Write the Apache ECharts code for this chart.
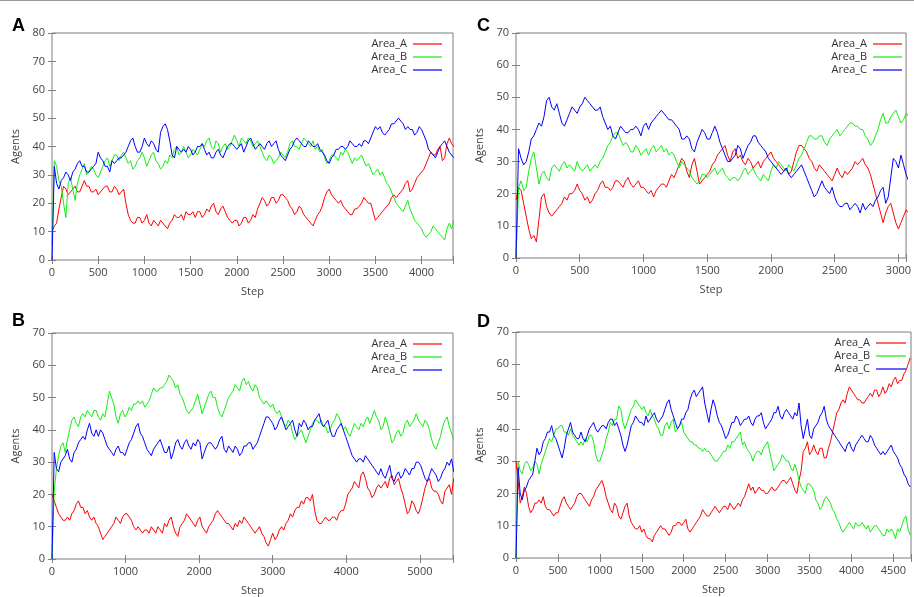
<!DOCTYPE html>
<html>
<head>
<meta charset="utf-8">
<title>Agents per area</title>
<script src="https://cdn.jsdelivr.net/npm/echarts@6/dist/echarts.min.js"></script>
<style>
  html, body { margin: 0; padding: 0; background: #fff; }
  #chart { width: 914px; height: 597px; }
</style>
</head>
<body>
<div id="chart"></div>
<script>
// readings taken off the four panels, one value every `step` simulation steps
const seriesNames = ['Area_A', 'Area_B', 'Area_C'];

// panel A
const stepA = 25;
const a_areaA = [10,12,13,18,22,26,25,23,24,25,26,24,24,26,28,26,26,24,24,25,
  23,24,25,26,26,24,24,26,25,23,24,25,20,16,14,13,13,15,15,13,
  14,16,13,12,14,13,12,14,13,12,11,13,14,16,15,15,16,14,17,16,
  16,17,15,17,17,15,16,18,17,19,20,17,16,18,19,17,15,14,13,14,
  14,12,13,15,15,13,14,16,15,18,20,22,21,19,20,22,22,20,21,23,
  23,22,21,19,18,16,17,19,18,16,15,14,13,12,14,16,17,19,22,24,
  25,23,22,21,20,21,19,18,17,16,16,18,18,19,20,22,21,20,20,17,
  14,15,16,17,18,19,20,22,23,22,23,24,25,27,28,24,25,27,29,30,
  31,32,34,36,38,37,37,39,40,35,36,41,43,41,40];
const a_areaB = [5,35,33,28,26,20,15,27,29,25,21,27,30,32,34,30,31,33,32,30,
  29,31,33,35,36,33,35,37,37,35,37,38,36,34,35,32,33,35,36,38,
  36,33,35,37,38,35,34,32,33,35,34,37,36,39,40,37,38,40,38,36,
  37,39,38,37,39,41,40,42,43,40,39,42,41,38,40,41,39,40,42,44,
  42,40,43,42,41,43,42,40,41,42,40,38,36,35,37,36,34,35,36,38,
  37,36,38,41,42,40,40,39,41,43,42,41,40,42,39,40,38,39,36,34,
  35,37,37,36,35,38,37,39,38,36,34,36,35,36,37,35,33,34,32,30,
  31,32,30,31,29,27,26,24,22,20,19,18,17,19,21,18,16,14,13,12,
  11,9,8,9,10,12,11,10,9,8,7,11,13,11,14];
const a_areaC = [0,33,27,25,28,29,31,30,28,31,32,34,35,33,33,31,31,32,33,34,
  38,36,35,33,33,31,35,34,35,36,36,37,38,40,42,43,40,38,38,40,
  43,41,40,42,41,39,38,45,47,48,46,42,37,36,40,39,38,39,38,40,
  39,37,38,40,40,41,39,37,38,36,36,38,39,37,36,38,40,41,41,40,
  39,40,41,38,40,42,43,41,39,40,41,40,39,41,42,40,41,42,39,37,
  36,35,37,39,40,42,43,42,41,40,40,42,41,40,40,41,39,38,37,35,
  34,36,37,39,39,40,40,39,40,42,41,40,40,41,40,42,42,41,43,45,
  47,46,47,45,44,45,46,48,48,49,50,49,48,46,47,46,46,44,45,47,
  46,44,42,39,38,37,36,38,40,41,42,40,38,37,36];

// panel B
const stepB = 30;
const b_areaA = [20,18,16,14,13,12,12,13,12,14,15,17,18,16,16,14,15,13,12,13,
  11,10,8,6,7,8,9,10,11,13,12,11,13,14,14,13,12,10,9,10,
  9,8,9,9,8,10,9,8,10,9,8,11,10,12,13,10,8,7,10,11,
  12,14,13,12,11,10,12,13,10,9,8,10,11,12,14,15,14,13,12,11,
  11,10,9,11,10,12,11,13,12,11,10,9,8,9,10,8,7,5,4,6,
  8,6,7,9,10,9,11,12,14,13,15,16,16,18,17,19,19,18,20,15,
  12,11,11,12,13,12,12,13,13,12,14,15,15,17,20,21,22,24,23,22,
  26,27,25,22,21,19,20,22,23,22,23,24,22,25,26,23,24,25,22,20,
  17,14,15,18,17,15,14,16,19,22,24,25,22,21,21,20,18,17,21,22,
  23,20,25];
const b_areaB = [0,21,28,32,35,36,33,37,40,43,44,42,41,44,45,44,46,45,44,46,
  46,44,43,45,44,48,52,50,48,44,42,45,46,44,45,47,46,48,48,49,
  48,49,47,48,49,51,53,52,52,53,53,54,55,57,56,55,53,54,51,50,
  48,46,45,46,47,49,51,48,45,47,49,51,52,50,50,47,45,44,46,48,
  50,51,52,54,53,52,55,56,54,55,53,52,54,53,50,49,48,49,48,47,
  48,46,45,46,44,42,41,43,42,39,37,38,39,40,38,36,38,40,42,43,
  43,42,43,41,41,39,40,42,43,45,44,42,40,41,39,38,40,42,41,40,
  42,41,43,44,42,44,46,44,43,40,41,44,42,39,36,37,39,40,38,39,
  42,43,41,42,43,45,43,42,41,43,42,40,37,35,34,36,38,41,43,44,
  41,39,37];
const b_areaC = [0,33,28,27,30,31,32,34,31,30,33,34,36,37,38,37,40,42,39,38,
  40,38,40,39,37,35,34,33,32,34,35,33,33,32,34,36,37,39,41,42,
  39,38,36,34,33,32,34,35,36,37,35,33,33,35,31,33,36,37,35,34,
  36,37,35,34,36,35,37,36,31,33,35,36,36,35,34,35,37,38,34,33,
  35,34,33,35,34,32,33,35,35,36,36,34,35,36,38,40,42,44,44,43,
  42,40,41,43,44,42,40,41,42,43,40,38,42,41,43,42,40,41,41,43,
  44,45,42,41,42,43,40,38,38,40,41,42,40,38,36,34,32,31,30,31,
  31,30,32,31,30,29,28,27,26,28,26,25,27,29,25,24,26,27,25,26,
  28,27,26,28,28,30,30,29,27,25,24,26,28,27,26,24,25,27,28,30,
  29,31,27];

// panel C
const stepC = 20;
const c_areaA = [18,22,21,17,13,9,6,7,5,12,19,20,16,14,13,14,15,16,17,19,
  18,20,20,21,23,21,20,18,19,17,18,20,21,23,24,22,22,21,22,24,
  24,23,22,24,25,23,22,23,24,22,22,21,20,21,19,21,22,23,23,22,
  24,26,25,27,29,31,30,27,25,29,31,27,23,24,25,26,27,29,30,32,
  33,34,35,32,30,33,34,31,32,30,29,31,30,28,29,30,28,30,31,32,
  33,31,30,29,28,27,28,26,27,30,33,35,35,34,33,31,30,28,27,29,
  28,27,26,25,24,26,28,26,25,27,26,27,28,30,29,30,31,29,28,26,
  23,20,17,14,11,14,16,17,14,11,9,11,13,15,14];
const c_areaB = [0,22,24,21,22,27,31,33,28,23,26,27,25,24,28,29,28,27,29,30,
  28,29,28,27,30,28,27,28,29,27,28,29,28,30,31,33,35,36,38,39,
  39,37,35,36,35,33,33,35,34,32,33,34,32,34,35,33,34,35,33,34,
  32,33,32,30,28,30,29,28,27,25,24,23,24,26,26,25,26,27,28,26,
  27,28,26,25,24,25,25,24,25,27,28,26,27,28,26,25,24,26,25,24,
  27,29,28,30,29,28,27,29,28,27,29,31,32,34,36,38,38,37,37,38,
  38,36,35,37,38,39,40,38,39,40,41,42,42,41,41,40,40,38,37,35,
  36,38,40,43,45,42,42,44,45,46,44,42,43,45,44];
const c_areaC = [0,34,31,29,30,33,37,38,40,42,41,44,49,50,47,46,48,45,42,41,
  43,45,47,46,45,47,48,50,49,48,47,46,46,47,44,42,40,41,38,37,
  39,41,40,39,39,40,40,41,40,38,41,42,40,42,43,44,45,46,45,44,
  43,43,42,41,40,37,37,38,37,34,33,36,38,40,39,37,37,39,41,39,
  36,34,32,30,30,31,32,35,34,31,33,35,36,38,38,36,35,34,33,31,
  30,29,28,27,26,27,28,26,25,26,27,28,29,27,25,23,21,19,20,22,
  24,22,21,20,22,19,17,16,16,17,17,15,16,17,16,14,17,15,16,17,
  16,18,19,21,22,17,19,25,31,30,28,32,29,26,24];

// panel D
const stepD = 25;
const d_areaA = [30,24,17,19,22,20,16,14,15,17,17,18,17,19,16,15,15,14,13,14,
  14,16,18,19,17,16,15,16,17,19,20,20,19,18,17,16,18,19,21,22,
  23,24,22,19,17,15,14,17,16,13,12,14,16,17,13,11,10,9,9,10,
  8,9,7,6,6,5,7,8,9,10,9,9,8,7,8,10,10,11,11,10,
  11,12,9,8,9,10,11,12,13,15,14,13,13,14,15,16,15,14,15,16,
  16,15,17,16,15,16,17,16,18,19,21,23,21,22,20,21,22,21,21,20,
  20,21,22,21,21,22,23,24,24,23,24,25,23,21,20,24,27,33,34,36,
  32,33,35,33,32,34,34,31,31,34,36,39,42,45,46,48,49,48,51,53,
  52,51,50,49,49,48,48,49,50,51,50,52,52,50,51,53,51,52,54,53,
  55,56,54,55,55,57,58,60,62];
const d_areaB = [0,30,27,26,29,30,29,27,28,30,29,26,29,31,33,35,37,36,38,40,
  40,41,41,39,39,38,40,38,37,36,35,36,35,37,36,38,38,36,32,30,
  30,32,34,37,39,42,41,43,43,47,46,42,40,42,44,46,47,49,48,47,
  46,47,45,44,46,44,43,41,40,38,38,41,42,40,42,43,39,40,41,42,
  39,38,37,36,36,35,35,34,34,33,34,33,33,32,31,30,30,31,32,33,
  33,35,34,36,36,37,38,39,35,36,34,33,32,30,32,33,33,32,34,35,
  36,33,30,27,28,29,30,32,31,30,30,28,27,29,27,24,22,21,20,23,
  23,22,21,18,17,15,16,18,19,18,17,15,14,12,11,9,8,9,10,11,
  10,9,11,10,10,11,10,9,10,8,9,10,10,9,8,7,7,9,8,9,
  8,6,9,8,10,12,13,9,7];
const d_areaC = [0,28,20,18,21,22,24,25,26,30,34,32,33,36,37,39,39,41,38,37,
  35,33,31,34,38,40,42,39,38,37,37,39,37,36,38,40,41,42,40,39,
  40,41,41,40,42,43,43,41,42,40,38,35,33,35,38,41,42,44,43,42,
  42,41,44,42,43,44,45,43,42,43,44,46,48,49,46,44,42,40,41,43,
  43,45,46,49,51,52,50,51,52,53,48,45,42,46,49,47,44,42,41,39,
  37,38,40,42,42,44,43,41,42,43,43,44,42,41,43,44,44,45,42,40,
  41,42,43,45,45,47,44,43,45,46,45,44,43,45,44,48,41,37,40,43,
  38,37,40,41,42,44,45,47,43,41,40,39,38,37,36,35,34,33,35,36,
  34,33,35,36,37,38,37,36,36,38,37,35,34,33,32,33,32,33,34,35,
  33,32,31,29,28,26,25,23,22];

const colors = ['#ff0000', '#11ee11', '#0000ff'];
const font = 'Open Sans';
const frame = '#7f7f7f';
const textGray = '#444';

// key: x0/x1 = sample line ends, y = centre of the first key row
const panels = [
  { letter: 'A', box: { left: 52, top: 33, width: 401, height: 227 }, xMax: 4340, xInt: 500, yMax: 80,
    step: stepA, values: [a_areaA, a_areaB, a_areaC], key: { x0: 413, x1: 442, y: 44 }, lx: 12, ly: 17 },
  { letter: 'C', box: { left: 516, top: 33, width: 397, height: 225 }, xMax: 3060, xInt: 500, yMax: 70,
    step: stepC, values: [c_areaA, c_areaB, c_areaC], key: { x0: 873, x1: 902, y: 44 }, lx: 477, ly: 17 },
  { letter: 'B', box: { left: 52, top: 333, width: 401, height: 227 }, xMax: 5450, xInt: 1000, yMax: 70,
    step: stepB, values: [b_areaA, b_areaB, b_areaC], key: { x0: 413, x1: 442, y: 344 }, lx: 12, ly: 312 },
  { letter: 'D', box: { left: 516, top: 332, width: 398, height: 226 }, xMax: 4710, xInt: 500, yMax: 70,
    step: stepD, values: [d_areaA, d_areaB, d_areaC], key: { x0: 876, x1: 906, y: 343 }, lx: 477, ly: 313 }
];

function toPairs(step, values) {
  return values.map((v, i) => [i * step, v]);
}

let grid = [], xAxis = [], yAxis = [], series = [];
let graphic = [
  // thin rule across the top of the figure
  { type: 'rect', shape: { x: 0, y: 0, width: 914, height: 1 }, style: { fill: '#9a9a9a' } }
];

const tick = { inside: true, length: 4, lineStyle: { color: frame } };
const label = { color: textGray, fontFamily: font, fontSize: 11 };

panels.forEach((p, i) => {
  grid.push(Object.assign({ show: true, borderColor: frame, borderWidth: 1 }, p.box));

  // bottom and mirrored top x axis
  xAxis.push({
    gridIndex: i, type: 'value', min: 0, max: p.xMax, interval: p.xInt,
    name: 'Step', nameLocation: 'middle', nameGap: 26,
    nameTextStyle: { color: textGray, fontFamily: font, fontSize: 11 },
    axisLine: { show: false }, axisTick: tick, splitLine: { show: false },
    axisLabel: Object.assign({ margin: 7, formatter: v => (v % p.xInt === 0 ? v : '') }, label)
  });
  xAxis.push({
    gridIndex: i, type: 'value', position: 'top', min: 0, max: p.xMax, interval: p.xInt,
    axisLine: { show: false }, axisTick: tick, splitLine: { show: false }, axisLabel: { show: false }
  });

  // left and mirrored right y axis
  yAxis.push({
    gridIndex: i, type: 'value', min: 0, max: p.yMax, interval: 10,
    name: 'Agents', nameLocation: 'middle', nameGap: 31,
    nameTextStyle: { color: textGray, fontFamily: font, fontSize: 11 },
    axisLine: { show: false }, axisTick: tick, splitLine: { show: false },
    axisLabel: Object.assign({ margin: 7 }, label)
  });
  yAxis.push({
    gridIndex: i, type: 'value', position: 'right', min: 0, max: p.yMax, interval: 10,
    axisLine: { show: false }, axisTick: tick, splitLine: { show: false }, axisLabel: { show: false }
  });

  p.values.forEach((vals, k) => {
    series.push({
      name: seriesNames[k], type: 'line', xAxisIndex: 2 * i, yAxisIndex: 2 * i,
      data: toPairs(p.step, vals), showSymbol: false, symbol: 'none',
      lineStyle: { width: 1, color: colors[k] }, itemStyle: { color: colors[k] }
    });

    // gnuplot style key: name on the left, sample line on the right
    const ky = p.key.y + k * 13;
    graphic.push({
      type: 'line', silent: true,
      shape: { x1: p.key.x0, y1: ky, x2: p.key.x1, y2: ky },
      style: { stroke: colors[k], lineWidth: 1.2 }
    });
    graphic.push({
      type: 'text', silent: true, x: p.key.x0 - 6, y: ky,
      style: { text: seriesNames[k], fill: '#333', font: '11px "' + font + '"', textAlign: 'right', textVerticalAlign: 'middle' }
    });
  });

  graphic.push({
    type: 'text', left: p.lx, top: p.ly,
    style: { text: p.letter, fill: '#000', font: 'bold 18px "Liberation Sans"' }
  });
});

const chart = echarts.init(document.getElementById('chart'));
chart.setOption({
  animation: false,
  backgroundColor: '#fff',
  grid: grid,
  xAxis: xAxis,
  yAxis: yAxis,
  series: series,
  graphic: graphic
});
</script>
</body>
</html>
